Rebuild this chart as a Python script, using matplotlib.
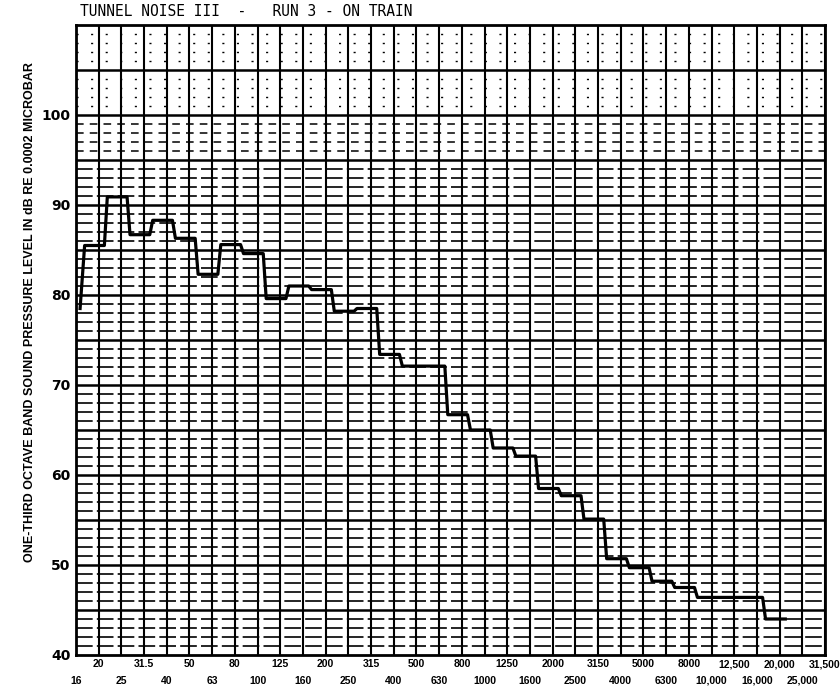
import matplotlib
matplotlib.use("Agg")
import matplotlib.pyplot as plt
import numpy as np

# one-third octave band centre frequencies (Hz), as printed on the chart paper
band_labels = ["16", "20", "25", "31.5", "40", "50", "63", "80", "100", "125",
               "160", "200", "250", "315", "400", "500", "630", "800", "1000",
               "1250", "1600", "2000", "2500", "3150", "4000", "5000", "6300",
               "8000", "10,000", "12,500", "16,000", "20,000", "25,000", "31,500"]

# recorded band levels, dB re 0.0002 microbar (16 Hz .. 16 kHz)
levels = [85.5, 90.9, 86.7, 88.3, 86.3, 82.3, 85.6, 84.6, 79.6, 81.0,
          80.6, 78.2, 78.5, 73.4, 72.1, 72.1, 66.7, 65.0, 63.0, 62.1,
          58.5, 57.7, 55.1, 50.7, 49.7, 48.2, 47.5, 46.4, 46.4, 46.4,
          44.0]
start_level = 78.5

y_ticks = [40, 50, 60, 70, 80, 90, 100]

# level recorder pen: lags the band switch a little and ramps between steps
lag, ramp = 0.25, 0.13

fig = plt.figure(figsize=(8.4, 6.98), dpi=100)
ax = fig.add_axes([76 / 840, 1 - 655 / 698, 749 / 840, 630 / 698])
ax.set_xlim(0, len(band_labels) - 1)
ax.set_ylim(40, 110)

# chart paper grid
for k in range(len(band_labels)):
    ax.axvline(k, color="black", lw=1.5, zorder=1)
for db in range(41, 110):
    if db % 5 == 0:
        ax.axhline(db, color="black", lw=1.8, zorder=1)
    elif db > 100:
        ax.axhline(db, color="black", lw=1.0, ls=(0, (1.5, 9)), zorder=1)
    elif db > 95:
        ax.axhline(db, color="black", lw=1.1, ls=(0, (5, 4)), zorder=1)
    else:
        ax.axhline(db, color="black", lw=1.2, ls=(0, (10, 2.5)), zorder=1)

# trace
xs = [lag - 0.07]
ys = [start_level]
for k, lv in enumerate(levels):
    xs += [k + lag + ramp, k + 1 + lag]
    ys += [lv, lv]
ax.plot(xs, ys, color="black", lw=2.3, solid_joinstyle="round", zorder=3)

for s in ax.spines.values():
    s.set_linewidth(2.0)

# x labels in two staggered rows
ax.set_xticks(range(0, len(band_labels), 2))
ax.set_xticklabels(band_labels[0::2])
ax.set_xticks(range(1, len(band_labels), 2), minor=True)
ax.set_xticklabels(band_labels[1::2], minor=True)
ax.tick_params(axis="x", which="major", length=0, pad=15)
ax.tick_params(axis="x", which="minor", length=0, pad=3)
for lab in ax.get_xticklabels(which="both"):
    lab.set_fontfamily("Liberation Sans")
    lab.set_fontweight("bold")
    lab.set_fontsize(7.5)

ax.set_yticks(y_ticks)
ax.set_yticklabels([str(v) for v in y_ticks])
ax.tick_params(axis="y", length=0, pad=4)
for lab in ax.get_yticklabels():
    lab.set_fontweight("bold")
    lab.set_fontsize(10)

fig.text(80 / 840, 1 - 12 / 698, "TUNNEL NOISE III  -   RUN 3 - ON TRAIN",
         family="DejaVu Sans Mono", fontsize=10.5, ha="left", va="center")
fig.text(30 / 840, 1 - 312 / 698,
         "ONE-THIRD OCTAVE BAND SOUND PRESSURE LEVEL IN dB RE 0.0002 MICROBAR",
         family="Liberation Sans", fontweight="bold", fontsize=9,
         rotation=90, ha="center", va="center")

fig.savefig("out.png", dpi=100)
